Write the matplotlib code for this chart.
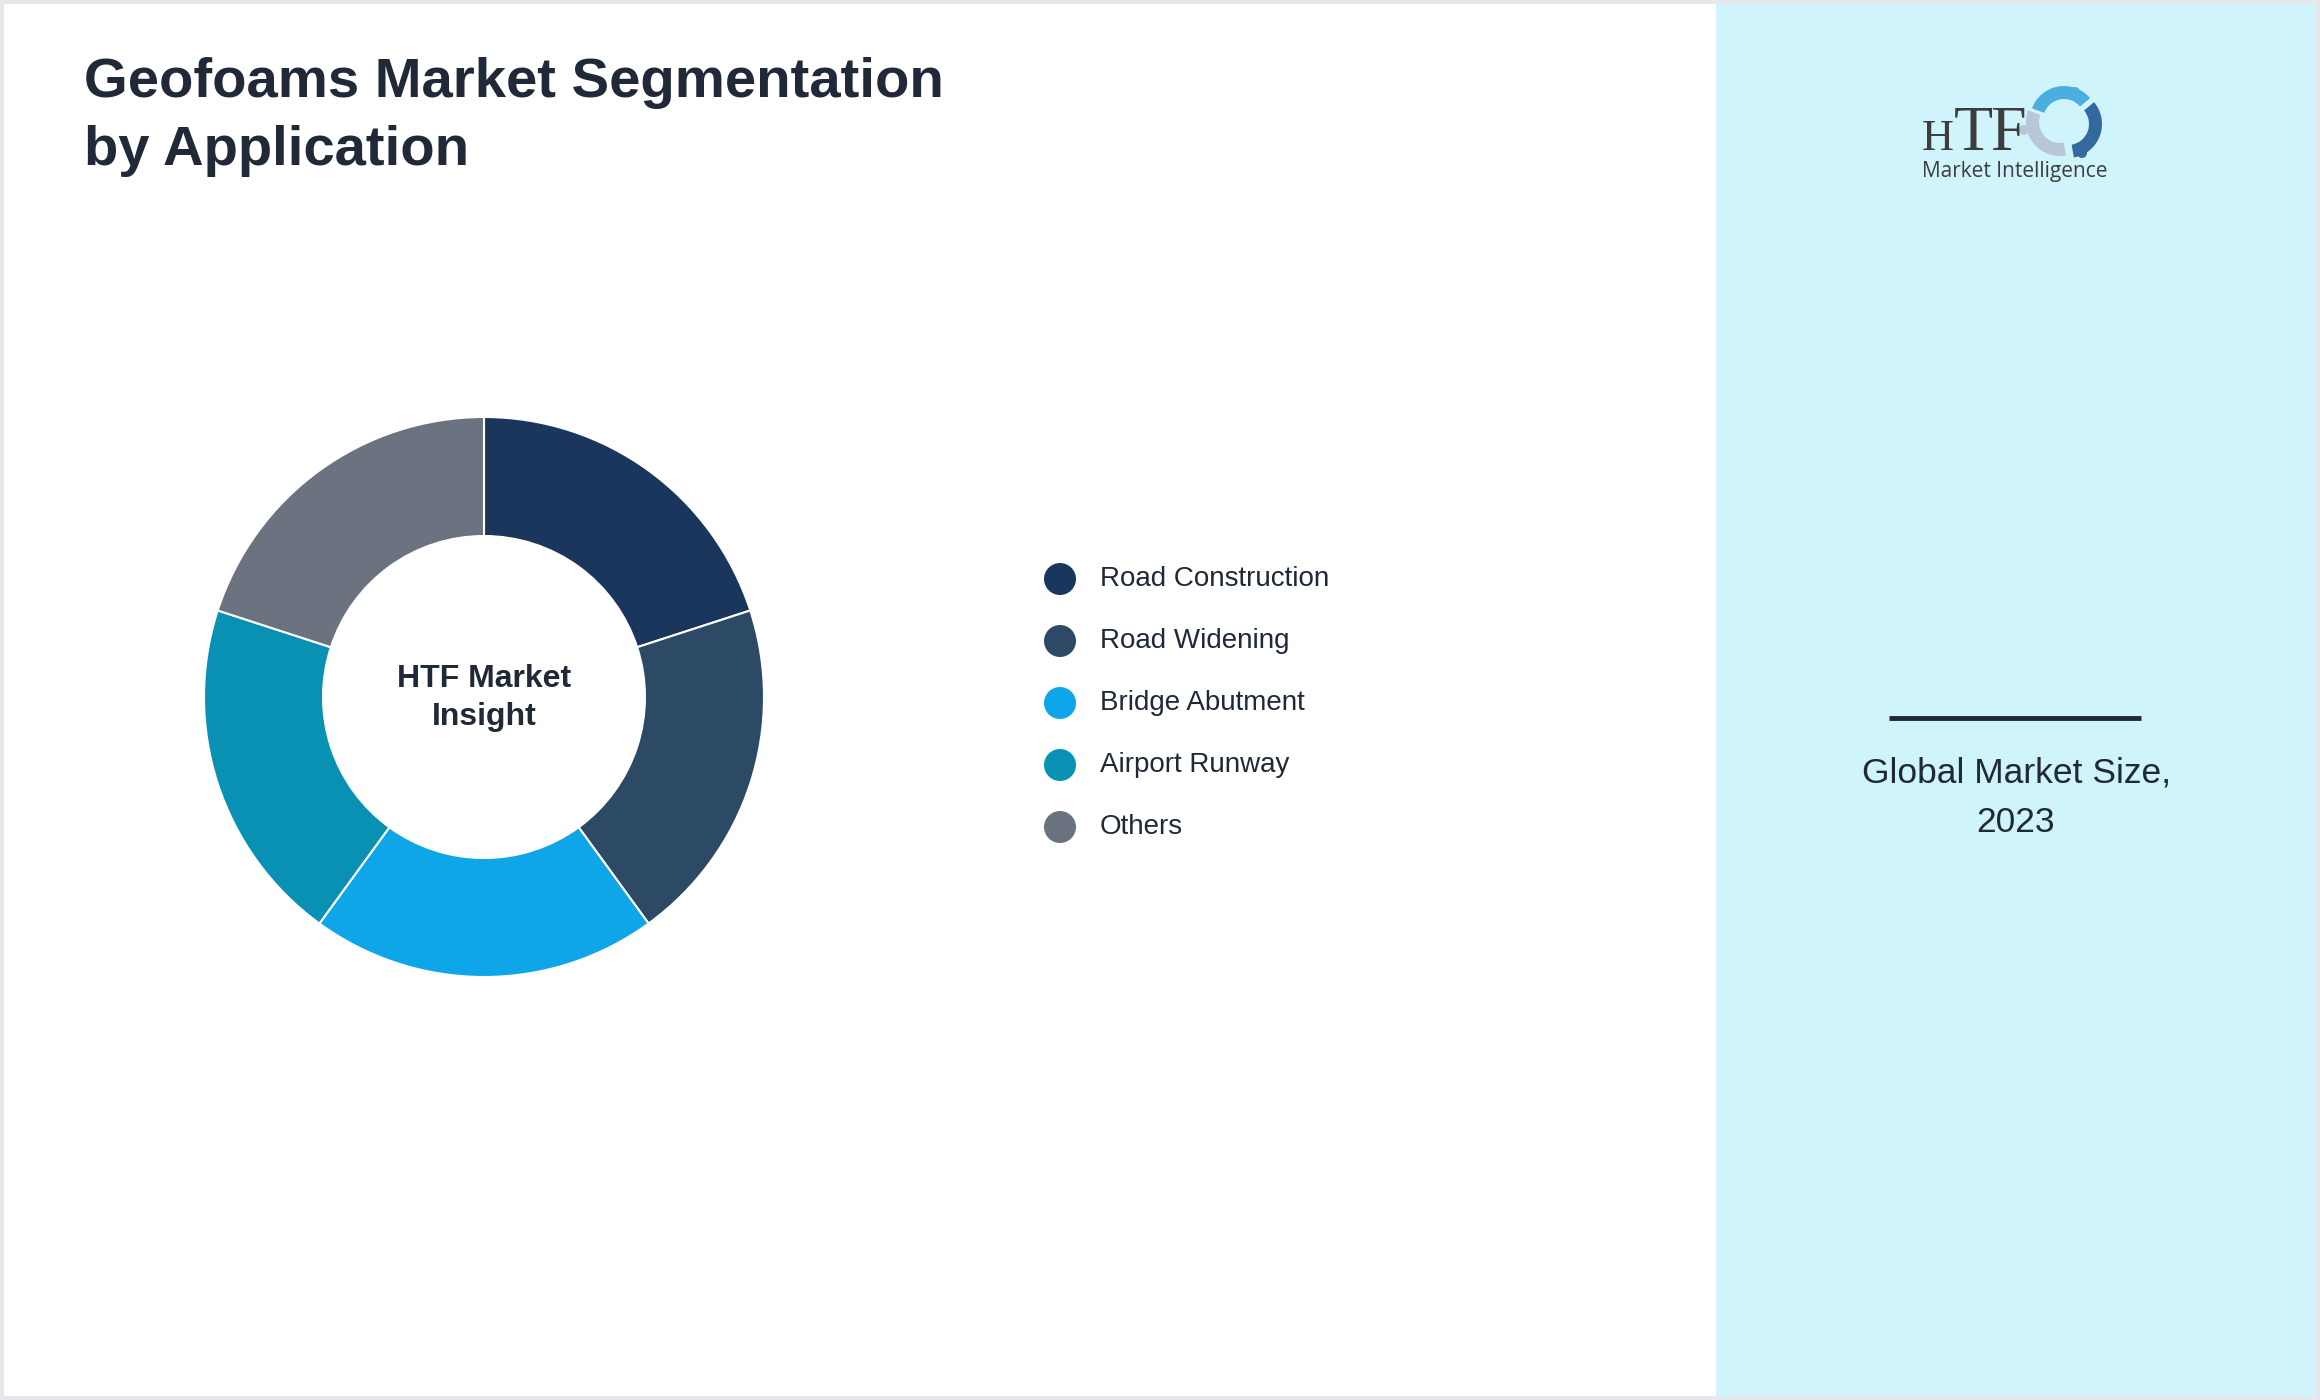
import matplotlib
matplotlib.use("Agg")
import matplotlib.pyplot as plt
from matplotlib.patches import Rectangle, Circle, Wedge

plt.rcParams["font.family"] = ["Liberation Sans", "DejaVu Sans"]

# --- chart data ---
TITLE_LINES = ["Geofoams Market Segmentation", "by Application"]
CATEGORIES = ["Road Construction", "Road Widening", "Bridge Abutment",
              "Airport Runway", "Others"]
SHARES = [20, 20, 20, 20, 20]
COLORS = ["#1b365d", "#2c4a65", "#0ea5e9", "#0891b2", "#6b7280"]
CENTER_LABEL = ["HTF Market", "Insight"]
SIDE_LABEL = ["Global Market Size,", "2023"]

TEXT_DARK = "#1f2937"
W, H = 2320, 1400

fig = plt.figure(figsize=(W / 100, H / 100), dpi=100, facecolor="#e5e7eb")

# background axes in pixel coordinates (y down)
bg = fig.add_axes([0, 0, 1, 1])
bg.set_xlim(0, W)
bg.set_ylim(H, 0)
bg.axis("off")
bg.add_patch(Rectangle((4, 4), W - 8, H - 8, facecolor="white", edgecolor="none"))
bg.add_patch(Rectangle((1716, 4), W - 4 - 1716, H - 8, facecolor="#cff4fc",
                       edgecolor="none"))

# title
for i, line in enumerate(TITLE_LINES):
    bg.text(84, 97 + i * 68, line, fontsize=40.5, fontweight="bold",
            color=TEXT_DARK, ha="left", va="baseline")

# donut
cx, cy, r_out, r_in = 484, 697, 280, 161
pad = 300
pie_ax = fig.add_axes([(cx - pad) / W, 1 - (cy + pad) / H, 2 * pad / W, 2 * pad / H])
pie_ax.pie(SHARES, colors=COLORS, radius=r_out, startangle=90, counterclock=False,
           wedgeprops=dict(width=r_out - r_in, edgecolor="white", linewidth=1.5),
           frame=True)
pie_ax.set_xlim(-pad, pad)
pie_ax.set_ylim(-pad, pad)
pie_ax.set_aspect("equal")
pie_ax.axis("off")

for i, line in enumerate(CENTER_LABEL):
    bg.text(cx, 679 + i * 38, line, fontsize=23, fontweight="bold",
            color=TEXT_DARK, ha="center", va="center")

# legend
for i, (name, col) in enumerate(zip(CATEGORIES, COLORS)):
    y = 579 + i * 62
    bg.add_patch(Circle((1060, y), 16, facecolor=col, edgecolor="none"))
    bg.text(1100, y, name, fontsize=20, color=TEXT_DARK, ha="left", va="center")

# side panel
bg.plot([1889, 2141], [718, 718], color=TEXT_DARK, linewidth=3.5,
        solid_capstyle="butt")
for i, line in enumerate(SIDE_LABEL):
    bg.text(2016, 773 + i * 50, line, fontsize=25.5, color=TEXT_DARK,
            ha="center", va="center")

# logo (rough)
logo_grey = "#3d3d3d"
bg.text(1922, 150, "H", fontsize=32, family="Liberation Serif", color=logo_grey,
        ha="left", va="baseline")
bg.text(1954, 150, "T", fontsize=46, family="Liberation Serif", color=logo_grey,
        ha="left", va="baseline")
bg.text(1990, 150, "F", fontsize=46, family="Liberation Serif", color=logo_grey,
        ha="left", va="baseline")
bg.text(2015, 171, "Market Intelligence", fontsize=15, family="Open Sans",
        color=logo_grey, ha="center", va="center")
lx, ly = 2064, 120
bg.add_patch(Wedge((lx, ly), 34, 200, 320, width=13, facecolor="#4aaedf",
                   edgecolor="none"))
bg.add_patch(Wedge((lx + 4, ly + 4), 34, 320, 80, width=13, facecolor="#3469a0",
                   edgecolor="none"))
bg.add_patch(Wedge((lx - 4, ly + 2), 34, 80, 200, width=13, facecolor="#b7c7d8",
                   edgecolor="none"))
bg.add_patch(Circle((2075, 92), 5, facecolor="#4aaedf", edgecolor="none"))
bg.add_patch(Circle((2082, 153), 5, facecolor="#3469a0", edgecolor="none"))
bg.add_patch(Circle((2024, 130), 5, facecolor="#b7c7d8", edgecolor="none"))

fig.savefig("out.png", dpi=100, facecolor=fig.get_facecolor())
